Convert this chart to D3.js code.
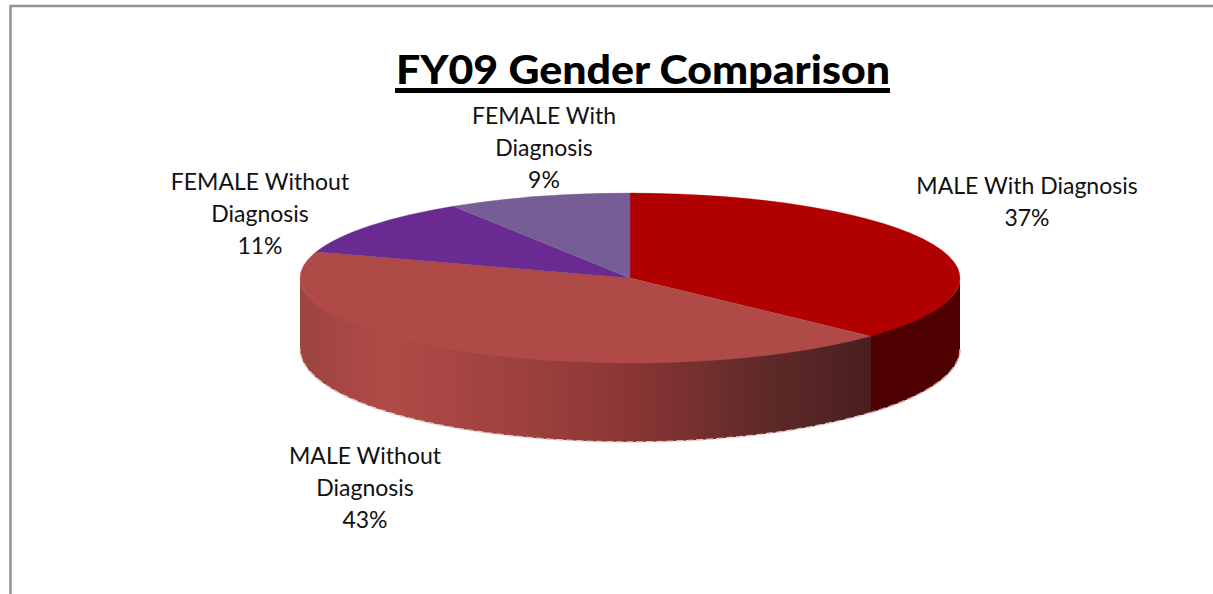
<!DOCTYPE html>
<html>
<head>
<meta charset="utf-8">
<script src="https://cdn.jsdelivr.net/npm/d3@7"></script>
<style>
  body { margin: 0; background: #fff; }
  text { font-family: Lato, sans-serif; fill: #111; }
</style>
</head>
<body>
<div id="chart-area"></div>
<script>
var categories = ["MALE With Diagnosis", "MALE Without Diagnosis", "FEMALE Without Diagnosis", "FEMALE With Diagnosis"];
var values = [37, 43, 11, 9];
var topColors = ["#b00000", "#b04a46", "#692b91", "#775d96"];
var labelLines = [
  ["MALE With Diagnosis", "37%"],
  ["MALE Without", "Diagnosis", "43%"],
  ["FEMALE Without", "Diagnosis", "11%"],
  ["FEMALE With", "Diagnosis", "9%"]
];
var labelPos = [[1027, 186], [365, 456], [260, 182], [544, 116]];

var width = 1213, height = 594;
var cx = 630, cy = 278, rx = 330, ry = 85;
// the bottom rim is rounder than the top one in the original
var cyLow = 349, ryLow = 93;

var svg = d3.select("#chart-area").append("svg")
  .attr("width", width)
  .attr("height", height)
  .style("display", "block");

// frame, only left and top show in the original
svg.append("path")
  .attr("d", "M10.5,594V6H1213")
  .attr("fill", "none")
  .attr("stroke", "#939393")
  .attr("stroke-width", 2.5);

var defs = svg.append("defs");
var wallGrad = defs.append("linearGradient")
  .attr("id", "wallGrad")
  .attr("gradientUnits", "userSpaceOnUse")
  .attr("x1", cx - rx).attr("x2", cx + rx)
  .attr("y1", 0).attr("y2", 0);
wallGrad.selectAll("stop")
  .data([[0, "#9c4440"], [0.13, "#b04a46"], [0.35, "#9c403d"], [0.5, "#8a3635"], [0.7, "#5f2a29"], [0.87, "#4a1e1e"], [1, "#4a1e1e"]])
  .enter().append("stop")
  .attr("offset", d => d[0])
  .attr("stop-color", d => d[1]);

var pie = d3.pie().sort(null);
var arcs = pie(values);
var arc = d3.arc().innerRadius(0).outerRadius(rx);

function px(a) { return cx + rx * Math.sin(a); }
function clip(d) {
  return [Math.max(d.startAngle, Math.PI / 2), Math.min(d.endAngle, Math.PI * 1.5)];
}

// side wall for the part of a slice that faces the viewer
function wallPath(d) {
  var c = clip(d), s = c[0], e = c[1];
  var p = d3.path();
  p.moveTo(px(s), cy - (ry - 2) * Math.cos(s));
  for (var i = 1; i <= 60; i++) {
    var a = s + (e - s) * i / 60;
    p.lineTo(px(a), cy - (ry - 2) * Math.cos(a));
  }
  for (var j = 60; j >= 0; j--) {
    var b = s + (e - s) * j / 60;
    p.lineTo(px(b), cyLow - ryLow * Math.cos(b));
  }
  p.closePath();
  return p.toString();
}

// just the lower rim of a wall
function rimPath(d) {
  var c = clip(d), s = c[0], e = c[1];
  var p = d3.path();
  for (var i = 0; i <= 60; i++) {
    var a = s + (e - s) * i / 60;
    if (i == 0) p.moveTo(px(a), cyLow - ryLow * Math.cos(a));
    else p.lineTo(px(a), cyLow - ryLow * Math.cos(a));
  }
  return p.toString();
}

var facing = arcs.filter(d => clip(d)[1] > clip(d)[0]);
var wallFills = ["#4e0000", "url(#wallGrad)"];
var wallStrokes = ["#4e0000", "#4a1e1e"];
var rimColors = ["#c9a6a6", "#e6c6c6"];

svg.selectAll("path.wall")
  .data(facing)
  .enter().append("path")
  .attr("class", "wall")
  .attr("d", wallPath)
  .attr("fill", (d, i) => wallFills[i]);

// hide the light seam where the two walls meet
svg.selectAll("line.seam")
  .data(facing.slice(0, 1))
  .enter().append("line")
  .attr("class", "seam")
  .attr("x1", d => px(d.endAngle)).attr("x2", d => px(d.endAngle))
  .attr("y1", d => cy - ry * Math.cos(d.endAngle))
  .attr("y2", d => cyLow - ryLow * Math.cos(d.endAngle))
  .attr("stroke", wallStrokes[1])
  .attr("stroke-width", 1);

svg.selectAll("path.rim")
  .data(facing)
  .enter().append("path")
  .attr("class", "rim")
  .attr("d", rimPath)
  .attr("fill", "none")
  .attr("stroke", (d, i) => rimColors[i])
  .attr("stroke-width", 1.5)
  .attr("stroke-dasharray", "7 3");

svg.append("g")
  .attr("transform", "translate(" + cx + "," + cy + ") scale(1," + (ry / rx) + ")")
  .selectAll("path")
  .data(arcs)
  .enter().append("path")
  .attr("d", arc)
  .attr("fill", (d, i) => topColors[i])
  .attr("stroke", (d, i) => topColors[i])
  .attr("stroke-width", 0.5);

// title, squeezed to the width of the original
svg.append("text")
  .attr("x", 396).attr("y", 84)
  .attr("font-size", 40)
  .attr("font-weight", 900)
  .attr("textLength", 494)
  .attr("lengthAdjust", "spacingAndGlyphs")
  .style("fill", "#000")
  .text("FY09 Gender Comparison");

svg.append("line")
  .attr("x1", 395).attr("x2", 890)
  .attr("y1", 90.5).attr("y2", 90.5)
  .attr("stroke", "#000")
  .attr("stroke-width", 5);

// labels
var lab = svg.selectAll("text.lab")
  .data(labelLines)
  .enter().append("text")
  .attr("class", "lab")
  .attr("text-anchor", "middle")
  .attr("font-size", 23);
lab.selectAll("tspan")
  .data((d, i) => d.map(t => ({ t: t, i: i })))
  .enter().append("tspan")
  .attr("x", d => labelPos[d.i][0])
  .attr("y", (d, j) => labelPos[d.i][1] + 8 + j * 32)
  .text(d => d.t);
</script>
</body>
</html>
